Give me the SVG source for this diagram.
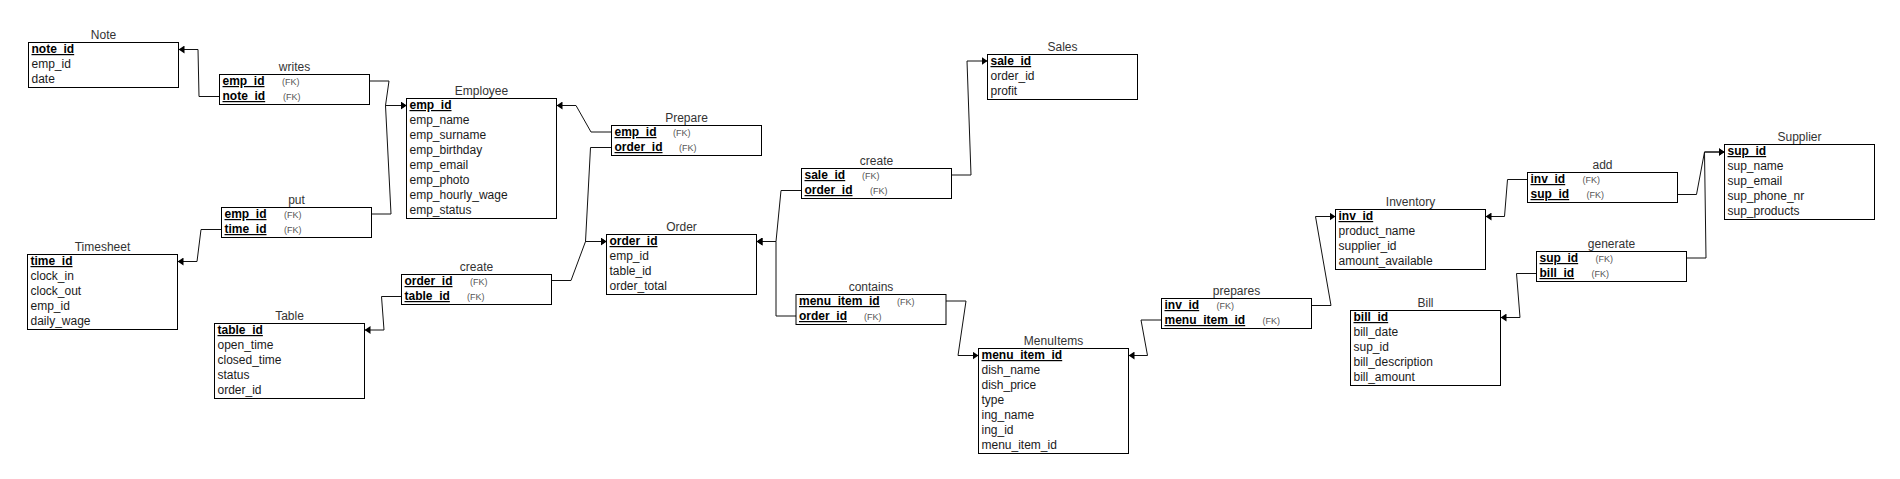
<svg xmlns="http://www.w3.org/2000/svg" width="1900" height="479" viewBox="0 0 1900 479">
<style>
.bg{fill:#fff}
.box{fill:#fff;stroke:#000;stroke-width:1}
.t{font-family:"Liberation Sans",Arial,sans-serif;font-size:12px;fill:#333;text-anchor:middle}
.r{font-family:"Liberation Sans",Arial,sans-serif;font-size:12px;fill:#1a1a1a}
.pk{font-family:"Liberation Sans",Arial,sans-serif;font-size:12px;font-weight:bold;fill:#000;text-decoration:underline}
.fk{font-family:"Liberation Sans",Arial,sans-serif;font-size:9px;fill:#555}
.c{fill:none;stroke:#111;stroke-width:1;marker-end:url(#arr)}
</style>
<defs>
<marker id="arr" viewBox="0 0 6 8" refX="6" refY="4" markerWidth="6" markerHeight="8" markerUnits="userSpaceOnUse" orient="auto">
<path d="M0,0 L6,4 L0,8 Z" fill="#000"/>
</marker>
</defs>
<rect class="bg" x="0" y="0" width="1900" height="479"/>

<g id="connectors">
<polyline class="c" points="219.5,96.5 199,96.5 198,49.5 178.5,49.5"/>
<polyline class="c" points="369.5,81 389,81 385.5,105.5 406.5,105.5"/>
<polyline class="c" points="371.5,214 391,214 385.5,105.5 406.5,105.5"/>
<polyline class="c" points="221.5,229.5 201,229.5 197,261.5 177.5,261.5"/>
<polyline class="c" points="401.5,296.5 381.5,296.5 384,330 364.5,330"/>
<polyline class="c" points="551.5,280.5 571,280.5 585.5,241.5 606.5,241.5"/>
<polyline class="c" points="611.5,147.5 590.5,147.5 585.5,241.5 606.5,241.5"/>
<polyline class="c" points="611.5,132 591,132 576,105.5 556.5,105.5"/>
<polyline class="c" points="801.5,190.5 781,190.5 776,241.5 756.5,241.5"/>
<polyline class="c" points="796,316 776,316 776,241.5 756.5,241.5"/>
<polyline class="c" points="951.5,175 971,175 967,61 987.5,61"/>
<polyline class="c" points="946,301 966,301 958,355.5 978.5,355.5"/>
<polyline class="c" points="1161.5,320 1141,320 1147.5,355.5 1128.5,355.5"/>
<polyline class="c" points="1311.5,305.5 1331,305.5 1315.5,216.5 1335.5,216.5"/>
<polyline class="c" points="1527.5,179.5 1507.5,179.5 1504.5,216.5 1485.5,216.5"/>
<polyline class="c" points="1677.5,194.5 1696.5,194.5 1704.5,152 1724.5,152"/>
<polyline class="c" points="1686.5,258 1706,258 1704.5,152 1724.5,152"/>
<polyline class="c" points="1536.5,273.5 1516.5,273.5 1520,317.5 1500.5,317.5"/>
</g>

<g id="note">
<text class="t" x="103.5" y="39">Note</text>
<rect class="box" x="28.5" y="42.5" width="150" height="45"/>
<text class="pk" x="31.5" y="53">note_id</text>
<text class="r" x="31.5" y="68">emp_id</text>
<text class="r" x="31.5" y="83">date</text>
</g>

<g id="writes">
<text class="t" x="294.5" y="71">writes</text>
<rect class="box" x="219.5" y="74.5" width="150" height="30"/>
<text class="pk" x="222.5" y="85">emp_id</text>
<text class="fk" x="282" y="85">(FK)</text>
<text class="pk" x="222.5" y="100">note_id</text>
<text class="fk" x="283" y="100">(FK)</text>
</g>

<g id="employee">
<text class="t" x="481.5" y="95">Employee</text>
<rect class="box" x="406.5" y="98.5" width="150" height="120"/>
<text class="pk" x="409.5" y="109">emp_id</text>
<text class="r" x="409.5" y="124">emp_name</text>
<text class="r" x="409.5" y="139">emp_surname</text>
<text class="r" x="409.5" y="154">emp_birthday</text>
<text class="r" x="409.5" y="169">emp_email</text>
<text class="r" x="409.5" y="184">emp_photo</text>
<text class="r" x="409.5" y="199">emp_hourly_wage</text>
<text class="r" x="409.5" y="214">emp_status</text>
</g>

<g id="put">
<text class="t" x="296.5" y="204">put</text>
<rect class="box" x="221.5" y="207.5" width="150" height="30"/>
<text class="pk" x="224.5" y="218">emp_id</text>
<text class="fk" x="284" y="218">(FK)</text>
<text class="pk" x="224.5" y="233">time_id</text>
<text class="fk" x="284" y="233">(FK)</text>
</g>

<g id="timesheet">
<text class="t" x="102.5" y="251">Timesheet</text>
<rect class="box" x="27.5" y="254.5" width="150" height="75"/>
<text class="pk" x="30.5" y="265">time_id</text>
<text class="r" x="30.5" y="280">clock_in</text>
<text class="r" x="30.5" y="295">clock_out</text>
<text class="r" x="30.5" y="310">emp_id</text>
<text class="r" x="30.5" y="325">daily_wage</text>
</g>

<g id="table">
<text class="t" x="289.5" y="320">Table</text>
<rect class="box" x="214.5" y="323.5" width="150" height="75"/>
<text class="pk" x="217.5" y="334">table_id</text>
<text class="r" x="217.5" y="349">open_time</text>
<text class="r" x="217.5" y="364">closed_time</text>
<text class="r" x="217.5" y="379">status</text>
<text class="r" x="217.5" y="394">order_id</text>
</g>

<g id="create-order">
<text class="t" x="476.5" y="271">create</text>
<rect class="box" x="401.5" y="274.5" width="150" height="30"/>
<text class="pk" x="404.5" y="285">order_id</text>
<text class="fk" x="470" y="285">(FK)</text>
<text class="pk" x="404.5" y="300">table_id</text>
<text class="fk" x="467" y="300">(FK)</text>
</g>

<g id="prepare">
<text class="t" x="686.5" y="122">Prepare</text>
<rect class="box" x="611.5" y="125.5" width="150" height="30"/>
<text class="pk" x="614.5" y="136">emp_id</text>
<text class="fk" x="673" y="136">(FK)</text>
<text class="pk" x="614.5" y="151">order_id</text>
<text class="fk" x="679" y="151">(FK)</text>
</g>

<g id="order">
<text class="t" x="681.5" y="230.5">Order</text>
<rect class="box" x="606.5" y="234.5" width="150" height="60"/>
<text class="pk" x="609.5" y="245">order_id</text>
<text class="r" x="609.5" y="260">emp_id</text>
<text class="r" x="609.5" y="275">table_id</text>
<text class="r" x="609.5" y="290">order_total</text>
</g>

<g id="create-sale">
<text class="t" x="876.5" y="165">create</text>
<rect class="box" x="801.5" y="168.5" width="150" height="30"/>
<text class="pk" x="804.5" y="179">sale_id</text>
<text class="fk" x="862" y="179">(FK)</text>
<text class="pk" x="804.5" y="194">order_id</text>
<text class="fk" x="870" y="194">(FK)</text>
</g>

<g id="sales">
<text class="t" x="1062.5" y="51">Sales</text>
<rect class="box" x="987.5" y="54.5" width="150" height="45"/>
<text class="pk" x="990.5" y="65">sale_id</text>
<text class="r" x="990.5" y="80">order_id</text>
<text class="r" x="990.5" y="95">profit</text>
</g>

<g id="contains">
<text class="t" x="871" y="291">contains</text>
<rect class="box" x="796" y="294.5" width="150" height="30"/>
<text class="pk" x="799" y="305">menu_item_id</text>
<text class="fk" x="897" y="305">(FK)</text>
<text class="pk" x="799" y="320">order_id</text>
<text class="fk" x="864" y="320">(FK)</text>
</g>

<g id="menuitems">
<text class="t" x="1053.5" y="345">MenuItems</text>
<rect class="box" x="978.5" y="348.5" width="150" height="105"/>
<text class="pk" x="981.5" y="359">menu_item_id</text>
<text class="r" x="981.5" y="374">dish_name</text>
<text class="r" x="981.5" y="389">dish_price</text>
<text class="r" x="981.5" y="404">type</text>
<text class="r" x="981.5" y="419">ing_name</text>
<text class="r" x="981.5" y="434">ing_id</text>
<text class="r" x="981.5" y="449">menu_item_id</text>
</g>

<g id="prepares">
<text class="t" x="1236.5" y="295">prepares</text>
<rect class="box" x="1161.5" y="298.5" width="150" height="30"/>
<text class="pk" x="1164.5" y="309">inv_id</text>
<text class="fk" x="1216.5" y="309">(FK)</text>
<text class="pk" x="1164.5" y="324">menu_item_id</text>
<text class="fk" x="1262.5" y="324">(FK)</text>
</g>

<g id="inventory">
<text class="t" x="1410.5" y="206">Inventory</text>
<rect class="box" x="1335.5" y="209.5" width="150" height="60"/>
<text class="pk" x="1338.5" y="220">inv_id</text>
<text class="r" x="1338.5" y="235">product_name</text>
<text class="r" x="1338.5" y="250">supplier_id</text>
<text class="r" x="1338.5" y="265">amount_available</text>
</g>

<g id="add">
<text class="t" x="1602.5" y="169">add</text>
<rect class="box" x="1527.5" y="172.5" width="150" height="30"/>
<text class="pk" x="1530.5" y="183">inv_id</text>
<text class="fk" x="1582.5" y="183">(FK)</text>
<text class="pk" x="1530.5" y="198">sup_id</text>
<text class="fk" x="1586.5" y="198">(FK)</text>
</g>

<g id="generate">
<text class="t" x="1611.5" y="248">generate</text>
<rect class="box" x="1536.5" y="251.5" width="150" height="30"/>
<text class="pk" x="1539.5" y="262">sup_id</text>
<text class="fk" x="1595.5" y="262">(FK)</text>
<text class="pk" x="1539.5" y="277">bill_id</text>
<text class="fk" x="1591.5" y="277">(FK)</text>
</g>

<g id="supplier">
<text class="t" x="1799.5" y="141">Supplier</text>
<rect class="box" x="1724.5" y="144.5" width="150" height="75"/>
<text class="pk" x="1727.5" y="155">sup_id</text>
<text class="r" x="1727.5" y="170">sup_name</text>
<text class="r" x="1727.5" y="185">sup_email</text>
<text class="r" x="1727.5" y="200">sup_phone_nr</text>
<text class="r" x="1727.5" y="215">sup_products</text>
</g>

<g id="bill">
<text class="t" x="1425.5" y="307">Bill</text>
<rect class="box" x="1350.5" y="310.5" width="150" height="75"/>
<text class="pk" x="1353.5" y="321">bill_id</text>
<text class="r" x="1353.5" y="336">bill_date</text>
<text class="r" x="1353.5" y="351">sup_id</text>
<text class="r" x="1353.5" y="366">bill_description</text>
<text class="r" x="1353.5" y="381">bill_amount</text>
</g>
</svg>
